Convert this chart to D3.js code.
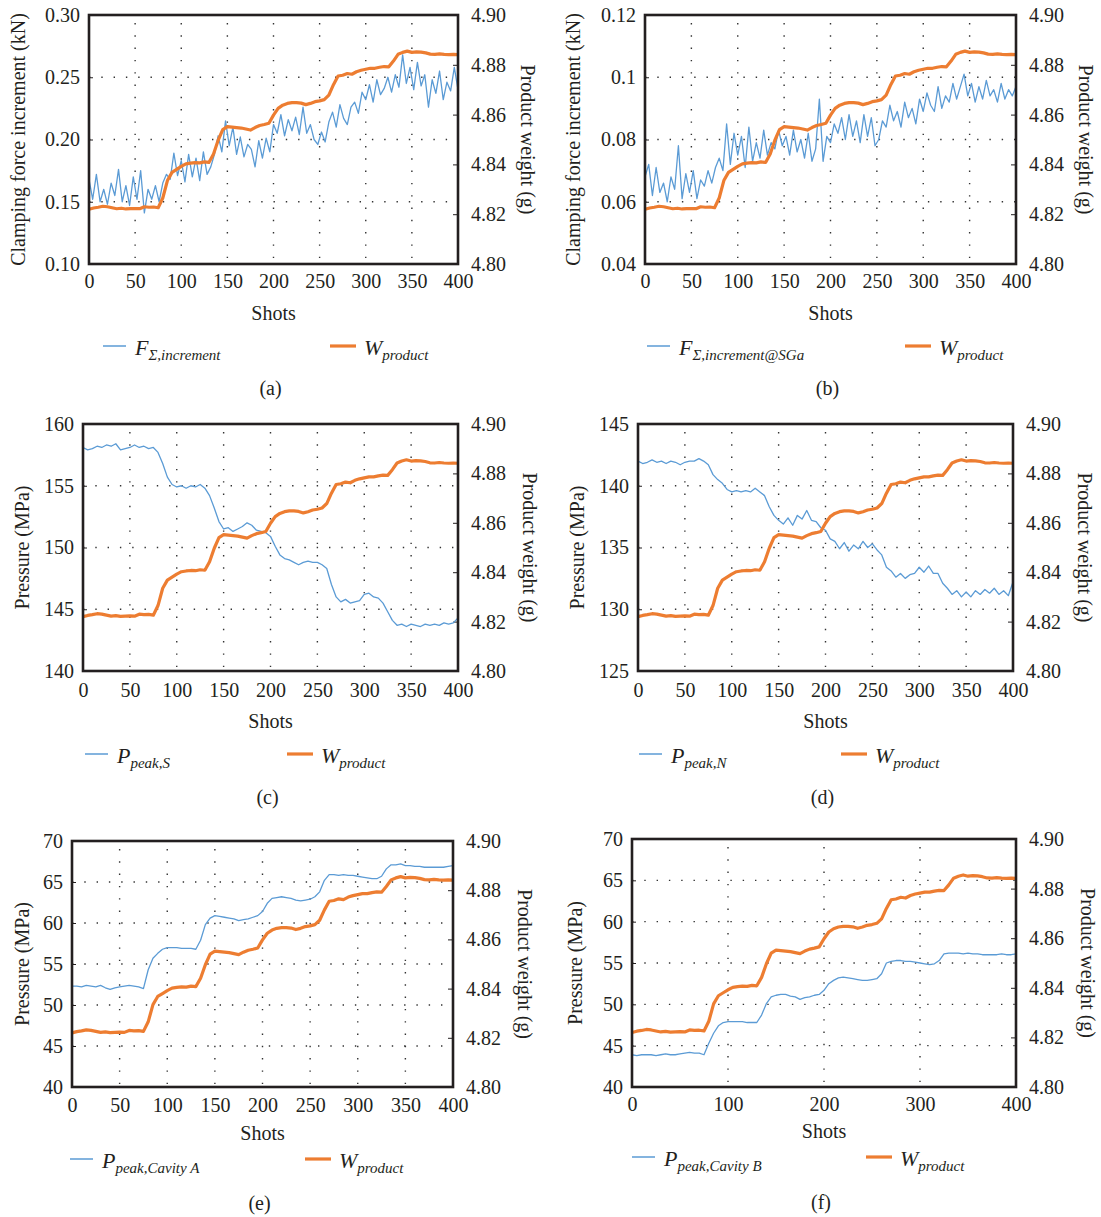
<!DOCTYPE html>
<html>
<head>
<meta charset="utf-8">
<script src="https://cdn.jsdelivr.net/npm/d3@7"></script>
<style>
  body { margin: 0; background: #fff; }
  text { font-family: "Liberation Serif", serif; fill: #231f20; }
</style>
</head>
<body>
<svg id="chart" width="1101" height="1217"></svg>
<script>
// ---- data ----
var shots5 = d3.range(0, 401, 5);   // series sampled every 5 shots
var shots4 = d3.range(0, 401, 4);   // noisy force series, every 4 shots

var xTicks50 = [0, 50, 100, 150, 200, 250, 300, 350, 400];
var xTicks100 = [0, 100, 200, 300, 400];
var weightTicks = [4.80, 4.82, 4.84, 4.86, 4.88, 4.90];

// product weight (g), same in every panel
var weight = [
  4.8220, 4.8225, 4.8228, 4.8232, 4.8230, 4.8226, 4.8222, 4.8224, 4.8221, 4.8222,
  4.8223, 4.8222, 4.8230, 4.8228, 4.8229, 4.8226, 4.8265, 4.8335, 4.8368, 4.8380,
  4.8392, 4.8402, 4.8405, 4.8407, 4.8406, 4.8410, 4.8408, 4.8442, 4.8497, 4.8540,
  4.8552, 4.8550, 4.8548, 4.8546, 4.8542, 4.8538, 4.8548, 4.8556, 4.8560, 4.8565,
  4.8598, 4.8625, 4.8638, 4.8645, 4.8648, 4.8648, 4.8646, 4.8640, 4.8645, 4.8652,
  4.8655, 4.8660, 4.8678, 4.8720, 4.8755, 4.8758, 4.8765, 4.8762, 4.8772, 4.8778,
  4.8782, 4.8786, 4.8786, 4.8790, 4.8793, 4.8792, 4.8815, 4.8842, 4.8850, 4.8855,
  4.8850, 4.8852, 4.8851, 4.8848, 4.8843, 4.8842, 4.8844, 4.8842, 4.8841, 4.8842,
  4.8841
];

// (a) clamping force increment (kN)
var clampInc = [
  0.168, 0.152, 0.172, 0.150, 0.160, 0.148, 0.165, 0.155, 0.176, 0.150,
  0.163, 0.147, 0.170, 0.152, 0.175, 0.141, 0.160, 0.152, 0.163, 0.150,
  0.165, 0.172, 0.168, 0.189, 0.171, 0.183, 0.166, 0.188, 0.170, 0.185,
  0.167, 0.190, 0.172, 0.178, 0.188, 0.203, 0.190, 0.215, 0.195, 0.210,
  0.188, 0.202, 0.186, 0.196, 0.192, 0.178, 0.199, 0.185, 0.201, 0.190,
  0.212, 0.205, 0.220, 0.203, 0.216, 0.207, 0.218, 0.204, 0.226, 0.205,
  0.212, 0.200, 0.196, 0.206, 0.198, 0.214, 0.222, 0.210, 0.228, 0.217,
  0.212, 0.226, 0.230, 0.221, 0.238, 0.232, 0.244, 0.230, 0.248, 0.236,
  0.241, 0.250, 0.238, 0.252, 0.242, 0.268, 0.245, 0.258, 0.240, 0.262,
  0.243, 0.252, 0.226, 0.248, 0.237, 0.255, 0.232, 0.246, 0.239, 0.258,
  0.240
];

// (b) clamping force increment at SGa (kN)
var clampIncSGa = [
  0.068, 0.072, 0.062, 0.071, 0.063, 0.066, 0.060, 0.068, 0.064, 0.078,
  0.061, 0.069, 0.063, 0.070, 0.061, 0.067, 0.065, 0.070, 0.066, 0.071,
  0.074, 0.070, 0.085, 0.072, 0.082, 0.075, 0.081, 0.071, 0.084, 0.073,
  0.079, 0.074, 0.083, 0.075, 0.079, 0.077, 0.083, 0.078, 0.081, 0.075,
  0.083, 0.076, 0.080, 0.074, 0.082, 0.073, 0.077, 0.093, 0.073, 0.081,
  0.079, 0.085, 0.082, 0.087, 0.080, 0.088, 0.081, 0.086, 0.079, 0.088,
  0.081, 0.087, 0.078, 0.080, 0.086, 0.084, 0.091, 0.086, 0.089, 0.084,
  0.092, 0.087, 0.090, 0.085, 0.093, 0.089, 0.095, 0.091, 0.089, 0.097,
  0.090, 0.094, 0.092, 0.098, 0.093, 0.097, 0.101, 0.094, 0.098, 0.092,
  0.097, 0.093, 0.099, 0.094, 0.096, 0.092, 0.098, 0.093, 0.096, 0.094,
  0.097
];

// (c) peak pressure S (MPa)
var peakS = [
  158.1, 157.9, 158.0, 158.2, 158.1, 158.3, 158.2, 158.4, 157.9, 158.0,
  158.1, 158.3, 158.1, 158.2, 158.0, 158.1, 157.7, 156.8, 155.7, 155.1,
  154.9, 155.0, 154.8, 155.0, 154.9, 155.1, 154.8, 154.2, 153.2, 152.1,
  151.5, 151.6, 151.3, 151.5, 151.7, 152.0, 151.8, 151.4, 151.3, 151.2,
  150.9, 150.1, 149.4, 149.1, 149.0, 148.8, 148.6, 148.8, 148.9, 148.8,
  148.8, 148.6, 148.3, 147.0, 146.0, 145.6, 145.8, 145.5, 145.6, 145.7,
  146.2, 146.3, 146.0, 145.9, 145.5, 144.8, 144.1, 143.7, 143.8, 143.6,
  143.8, 143.7, 143.6, 143.8, 143.7, 143.8, 143.7, 143.9, 143.8, 143.9,
  144.3
];

// (d) peak pressure N (MPa)
var peakN = [
  142.0, 141.8, 141.9, 142.1, 141.9, 142.0, 141.8, 142.0, 141.9, 141.7,
  141.9, 142.0, 142.0, 142.2, 142.0, 141.7, 140.9, 140.5, 140.2, 139.7,
  139.5, 139.6, 139.5, 139.6, 139.5, 139.8, 139.5, 139.2, 138.3, 137.6,
  137.2, 136.9, 137.4, 136.8, 137.6, 137.3, 138.0, 137.2, 137.1, 136.6,
  136.4, 135.7, 135.5, 134.9, 135.4, 134.7, 135.2, 134.9, 135.5, 135.0,
  135.3, 134.8, 134.4, 133.4, 133.1, 132.6, 132.9, 132.5, 132.8, 132.9,
  133.4, 133.0, 133.5, 132.9, 132.9, 132.1, 131.7, 131.2, 131.5, 131.0,
  131.4, 131.0, 131.5, 131.2, 131.6, 131.3, 131.7, 131.2, 131.5, 131.1,
  132.2
];

// (e) peak pressure cavity A (MPa)
var peakCavA = [
  52.3, 52.3, 52.2, 52.4, 52.3, 52.2, 52.4, 52.1, 51.9, 52.1,
  52.2, 52.3, 52.4, 52.3, 52.2, 52.0, 54.3, 55.7, 56.3, 56.8,
  57.0, 57.0, 57.0, 56.9, 56.9, 56.9, 56.8, 57.9, 59.8, 60.6,
  60.9, 60.8, 60.7, 60.6, 60.5, 60.3, 60.4, 60.5, 60.7, 60.9,
  61.4, 62.4, 63.0, 63.1, 63.2, 63.1, 63.0, 62.8, 62.7, 62.8,
  62.9, 63.2, 63.8, 65.2, 65.9, 65.9, 65.8, 65.9, 65.8, 65.8,
  65.7, 65.6, 65.5, 65.4, 65.4, 65.7, 66.6, 67.1, 67.1, 67.2,
  67.0, 67.0, 66.9, 66.9, 66.8, 66.8, 66.8, 66.8, 66.8, 66.9,
  67.0
];

// (f) peak pressure cavity B (MPa)
var peakCavB = [
  43.9, 43.8, 43.9, 43.9, 43.9, 43.8, 43.9, 44.0, 43.9, 43.9,
  44.0, 44.1, 44.2, 44.1, 44.1, 43.9, 45.3, 46.5, 47.4, 47.8,
  47.9, 47.9, 47.9, 47.9, 47.8, 47.8, 47.8, 48.7, 50.1, 50.9,
  51.1, 51.2, 51.2, 51.0, 50.9, 50.6, 50.8, 50.9, 51.1, 51.2,
  51.7, 52.5, 52.9, 53.2, 53.3, 53.2, 53.1, 53.0, 52.9, 52.9,
  53.0, 53.1, 53.7, 55.0, 55.2, 55.3, 55.3, 55.2, 55.2, 55.1,
  55.0, 54.9, 54.8, 54.9, 55.3, 56.1, 56.2, 56.2, 56.2, 56.1,
  56.2, 56.1, 56.1, 56.0, 56.0, 56.0, 56.0, 56.1, 56.0, 56.0,
  56.1
];

var ticksA = [0.10, 0.15, 0.20, 0.25, 0.30], labelsA = ["0.10", "0.15", "0.20", "0.25", "0.30"];
var ticksB = [0.04, 0.06, 0.08, 0.10, 0.12], labelsB = ["0.04", "0.06", "0.08", "0.1", "0.12"];
var ticksC = [140, 145, 150, 155, 160];
var ticksD = [125, 130, 135, 140, 145];
var ticksEF = [40, 45, 50, 55, 60, 65, 70];

// ---- layout ----
var BLUE = "#5b9bd5", ORANGE = "#ed7d31", INK = "#231f20";
var SERIF = '"Liberation Serif", serif';

var panels = [
  { cap: "(a)", x0: 89, x1: 458, y0: 15, y1: 264, series: clampInc, shots: shots4, dom: [0.10, 0.30],
    ticks: ticksA, labels: labelsA, xTicks: xTicks50, title: "Clamping force increment (kN)",
    titleX: 18, rTitleX: 528, lab: 281, shotsY: 313, legY: 349, capY: 388,
    legX: [103, 330], legMain: "F", legSub: "\u03A3,increment" },
  { cap: "(b)", x0: 645, x1: 1016, y0: 15, y1: 264, series: clampIncSGa, shots: shots4, dom: [0.04, 0.12],
    ticks: ticksB, labels: labelsB, xTicks: xTicks50, title: "Clamping force increment (kN)",
    titleX: 573, rTitleX: 1086, lab: 281, shotsY: 313, legY: 349, capY: 388,
    legX: [647, 905], legMain: "F", legSub: "\u03A3,increment@SGa" },
  { cap: "(c)", x0: 83, x1: 458, y0: 424, y1: 671, series: peakS, shots: shots5, dom: [140, 160],
    ticks: ticksC, labels: ticksC.map(String), xTicks: xTicks50, title: "Pressure (MPa)",
    titleX: 22, rTitleX: 530, lab: 690, shotsY: 721, legY: 757, capY: 797,
    legX: [85, 287], legMain: "P", legSub: "peak,S" },
  { cap: "(d)", x0: 638, x1: 1013, y0: 424, y1: 671, series: peakN, shots: shots5, dom: [125, 145],
    ticks: ticksD, labels: ticksD.map(String), xTicks: xTicks50, title: "Pressure (MPa)",
    titleX: 577, rTitleX: 1085, lab: 690, shotsY: 721, legY: 757, capY: 797,
    legX: [639, 841], legMain: "P", legSub: "peak,N" },
  { cap: "(e)", x0: 72, x1: 453, y0: 841, y1: 1087, series: peakCavA, shots: shots5, dom: [40, 70],
    ticks: ticksEF, labels: ticksEF.map(String), xTicks: xTicks50, title: "Pressure (MPa)",
    titleX: 22, rTitleX: 525, lab: 1105, shotsY: 1133, legY: 1162, capY: 1203,
    legX: [70, 305], legMain: "P", legSub: "peak,Cavity A" },
  { cap: "(f)", x0: 632, x1: 1016, y0: 839, y1: 1087, series: peakCavB, shots: shots5, dom: [40, 70],
    ticks: ticksEF, labels: ticksEF.map(String), xTicks: xTicks100, title: "Pressure (MPa)",
    titleX: 575, rTitleX: 1088, lab: 1104, shotsY: 1131, legY: 1160, capY: 1202,
    legX: [632, 866], legMain: "P", legSub: "peak,Cavity B" }
];

var svg = d3.select("#chart");

function styleAxis(g) {
  g.attr("font-size", 20).attr("color", INK);
  g.select(".domain").remove();
  g.selectAll("text").style("font-family", SERIF).attr("fill", INK);
}

function legendLabel(g, x, y, main, sub) {
  var t = g.append("text").attr("x", x).attr("y", y).style("font-family", SERIF)
    .attr("font-style", "italic").attr("font-size", 22);
  t.append("tspan").text(main);
  t.append("tspan").attr("font-size", 15).attr("dy", 5).text(sub);
}

panels.forEach(function(p) {
  var g = svg.append("g");
  var x = d3.scaleLinear().domain([0, 400]).range([p.x0, p.x1]);
  var yL = d3.scaleLinear().domain(p.dom).range([p.y1, p.y0]);
  var yR = d3.scaleLinear().domain([4.80, 4.90]).range([p.y1, p.y0]);

  // dotted grid
  g.selectAll(".vg").data(p.xTicks.slice(1, -1)).enter().append("line")
    .attr("x1", function(d) { return x(d); }).attr("x2", function(d) { return x(d); })
    .attr("y1", p.y0 + 8).attr("y2", p.y1)
    .attr("stroke", "#333").attr("stroke-width", 1.4).attr("stroke-dasharray", "1.4,10.9");
  g.selectAll(".hg").data(p.ticks.slice(1, -1)).enter().append("line")
    .attr("y1", function(d) { return yL(d); }).attr("y2", function(d) { return yL(d); })
    .attr("x1", p.x0).attr("x2", p.x1)
    .attr("stroke", "#333").attr("stroke-width", 1.4).attr("stroke-dasharray", "1.4,10.9");

  // axes
  g.append("g").attr("transform", "translate(" + p.x0 + ",0)")
    .call(d3.axisLeft(yL).tickValues(p.ticks).tickFormat(function(d, i) { return p.labels[i]; })
      .tickSize(-4).tickPadding(9))
    .call(styleAxis);
  g.append("g").attr("transform", "translate(" + p.x1 + ",0)")
    .call(d3.axisRight(yR).tickValues(weightTicks).tickFormat(d3.format(".2f"))
      .tickSize(-5).tickPadding(13))
    .call(styleAxis);
  g.append("g").attr("transform", "translate(0," + p.y1 + ")")
    .call(d3.axisBottom(x).tickValues(p.xTicks).tickSize(0).tickPadding(p.lab - p.y1 - 7.5))
    .call(styleAxis);

  // series
  var lineL = d3.line().x(function(d, i) { return x(p.shots[i]); }).y(function(d) { return yL(d); });
  var lineW = d3.line().x(function(d, i) { return x(shots5[i]); }).y(function(d) { return yR(d); });
  g.append("path").datum(p.series).attr("d", lineL)
    .attr("fill", "none").attr("stroke", BLUE).attr("stroke-width", 1.3).attr("stroke-linejoin", "round");
  g.append("path").datum(weight).attr("d", lineW)
    .attr("fill", "none").attr("stroke", ORANGE).attr("stroke-width", 3.2).attr("stroke-linejoin", "round");

  // frame
  g.append("rect").attr("x", p.x0).attr("y", p.y0)
    .attr("width", p.x1 - p.x0).attr("height", p.y1 - p.y0)
    .attr("fill", "none").attr("stroke", INK).attr("stroke-width", 2.6);

  // axis titles
  var midY = (p.y0 + p.y1) / 2, midX = (p.x0 + p.x1) / 2;
  g.append("text").attr("transform", "translate(" + p.titleX + "," + midY + ") rotate(-90)")
    .style("font-family", SERIF)
    .attr("text-anchor", "middle").attr("dominant-baseline", "central").attr("font-size", 20)
    .text(p.title);
  g.append("text").attr("transform", "translate(" + p.rTitleX + "," + midY + ") rotate(90)")
    .style("font-family", SERIF)
    .attr("text-anchor", "middle").attr("dominant-baseline", "central").attr("font-size", 20)
    .text("Product weight (g)");
  g.append("text").attr("x", midX).attr("y", p.shotsY + 7).style("font-family", SERIF)
    .attr("text-anchor", "middle").attr("font-size", 20).text("Shots");

  // legend
  g.append("line").attr("x1", p.legX[0]).attr("x2", p.legX[0] + 23)
    .attr("y1", p.legY - 3).attr("y2", p.legY - 3).attr("stroke", BLUE).attr("stroke-width", 1.5);
  legendLabel(g, p.legX[0] + 32, p.legY + 6, p.legMain, p.legSub);
  g.append("line").attr("x1", p.legX[1]).attr("x2", p.legX[1] + 26)
    .attr("y1", p.legY - 3).attr("y2", p.legY - 3).attr("stroke", ORANGE).attr("stroke-width", 3.2);
  legendLabel(g, p.legX[1] + 34, p.legY + 6, "W", "product");

  // caption
  g.append("text").attr("x", midX - 3).attr("y", p.capY + 7).style("font-family", SERIF)
    .attr("text-anchor", "middle").attr("font-size", 20).text(p.cap);
});
</script>
</body>
</html>
